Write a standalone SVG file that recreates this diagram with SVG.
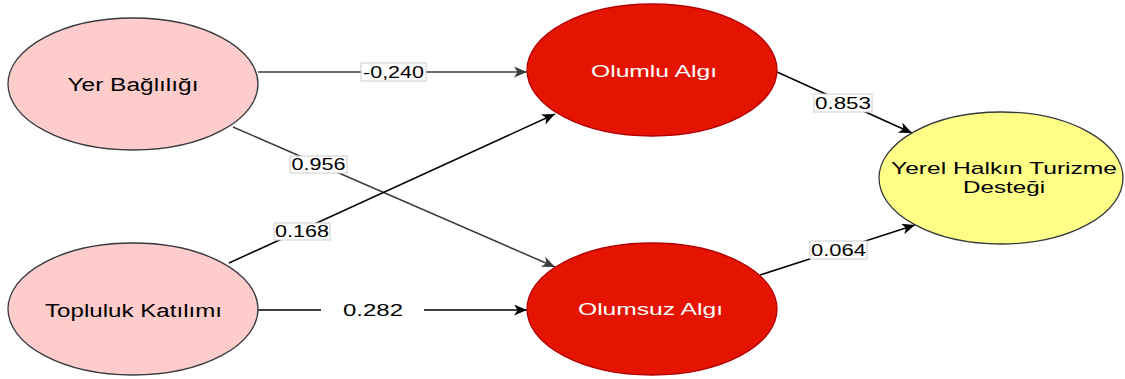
<svg xmlns="http://www.w3.org/2000/svg" width="1125" height="379" viewBox="0 0 1125 379">
<style>
.pink{fill:#ffcccc;stroke:#36393d;stroke-width:1.3}
.red{fill:#e51400;stroke:#b20000;stroke-width:1.3}
.yel{fill:#ffff88;stroke:#36393d;stroke-width:1.3}
.t{font-family:"Liberation Sans",Arial,sans-serif;font-size:17px;text-anchor:middle;fill:#000}
.big{font-size:18px}
.w{fill:#ffffff}
.lbl{font-family:"Liberation Sans",Arial,sans-serif;font-size:16px;text-anchor:middle;fill:#000}
.box{fill:#ffffff;stroke:#cccccc;stroke-width:1}
.eg{stroke:#3c3c3c;stroke-width:1.5;fill:none;marker-end:url(#ag)}
.eb{stroke:#000000;stroke-width:1.5;fill:none;marker-end:url(#ab)}
</style>
<defs>
<marker id="ag" markerUnits="userSpaceOnUse" markerWidth="14" markerHeight="12" refX="13" refY="5.5" orient="auto"><path d="M0,0 L13,5.5 L0,11 L3.5,5.5 z" fill="#3c3c3c"/></marker>
<marker id="ab" markerUnits="userSpaceOnUse" markerWidth="14" markerHeight="12" refX="13" refY="5.5" orient="auto"><path d="M0,0 L13,5.5 L0,11 L3.5,5.5 z" fill="#000"/></marker>
</defs>
<rect width="1125" height="379" fill="#ffffff"/>
<g id="connectors">
<line class="eg" x1="258" y1="72" x2="527" y2="72"/>
<line class="eg" x1="233" y1="127" x2="555" y2="267"/>
<line class="eb" x1="229" y1="263" x2="555" y2="114"/>
<line class="eb" x1="258" y1="310" x2="321" y2="310" style="marker-end:none"/>
<line class="eb" x1="424" y1="310" x2="527" y2="310"/>
<line class="eb" x1="777" y1="72" x2="912" y2="133"/>
<line class="eb" x1="760" y1="275" x2="915" y2="225"/>
<g id="labels">
<rect class="box" x="361" y="63" width="65" height="18"/>
<text class="lbl" x="393.5" y="77.5" textLength="61" lengthAdjust="spacingAndGlyphs">-0,240</text>
<rect class="box" x="290" y="156" width="57" height="17"/>
<text class="lbl" x="318.5" y="170" textLength="54" lengthAdjust="spacingAndGlyphs">0.956</text>
<rect class="box" x="274" y="223" width="56" height="17"/>
<text class="lbl" x="302" y="237" textLength="54" lengthAdjust="spacingAndGlyphs">0.168</text>
<text class="lbl" x="373" y="315.5" textLength="60" lengthAdjust="spacingAndGlyphs">0.282</text>
<rect class="box" x="814" y="94" width="58" height="18"/>
<text class="lbl" x="843" y="108.5" textLength="56" lengthAdjust="spacingAndGlyphs">0.853</text>
<rect class="box" x="810" y="241" width="57" height="18"/>
<text class="lbl" x="838.5" y="255.5" textLength="55" lengthAdjust="spacingAndGlyphs">0.064</text>
</g>
</g>
<g id="yer">
<ellipse class="pink" cx="133" cy="84" rx="125" ry="66"/>
<text class="t big" x="133" y="91" textLength="131" lengthAdjust="spacingAndGlyphs">Yer Bağlılığı</text>
</g>
<g id="topluluk">
<ellipse class="pink" cx="133" cy="309" rx="125" ry="66"/>
<text class="t big" x="133.5" y="317" textLength="177" lengthAdjust="spacingAndGlyphs">Topluluk Katılımı</text>
</g>
<g id="olumlu">
<ellipse class="red" cx="652" cy="70" rx="125" ry="66"/>
<text class="t w" x="654" y="77" textLength="126" lengthAdjust="spacingAndGlyphs">Olumlu Algı</text>
</g>
<g id="olumsuz">
<ellipse class="red" cx="652" cy="309" rx="125" ry="66"/>
<text class="t w" x="650.5" y="315" textLength="145" lengthAdjust="spacingAndGlyphs">Olumsuz Algı</text>
</g>
<g id="destek">
<ellipse class="yel" cx="1001" cy="178" rx="122" ry="66"/>
<text class="t" x="1004" y="174" textLength="226" lengthAdjust="spacingAndGlyphs">Yerel Halkın Turizme</text>
<text class="t" x="1004" y="193" textLength="82" lengthAdjust="spacingAndGlyphs">Desteği</text>
</g>
</svg>
